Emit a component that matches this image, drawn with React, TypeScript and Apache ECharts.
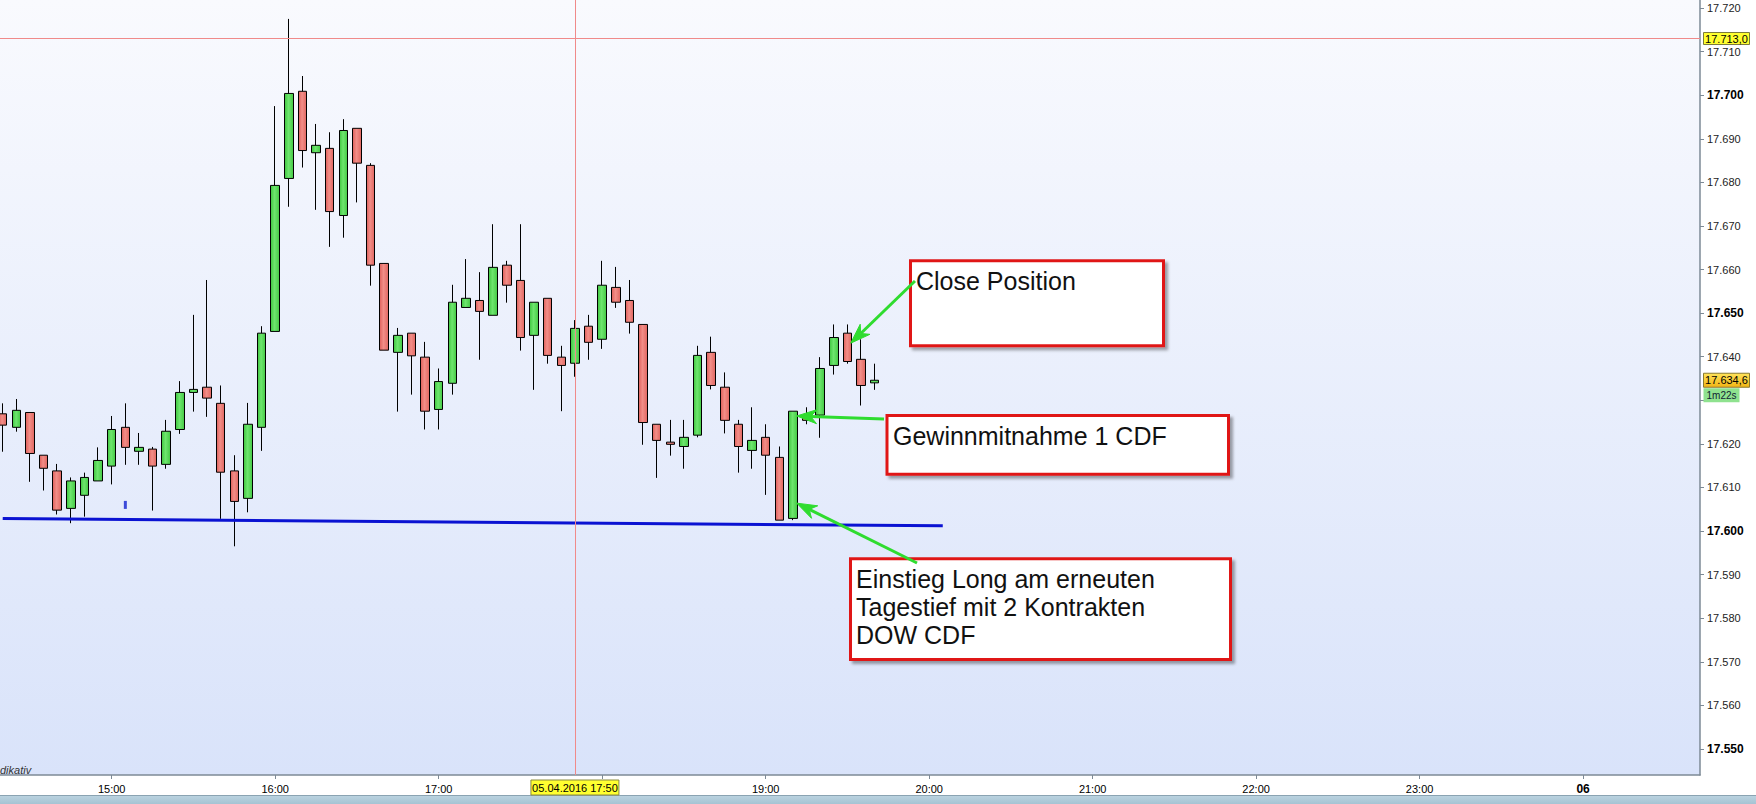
import React, { useEffect, useRef } from "react";
import * as echarts from "echarts";

// ---------- data ----------
const candleTimes = [
  "14:20", "14:25", "14:30", "14:35", "14:40", "14:45", "14:50", "14:55",
  "15:00", "15:05", "15:10", "15:15", "15:20", "15:25", "15:30", "15:35", "15:40", "15:45", "15:50", "15:55",
  "16:00", "16:05", "16:10", "16:15", "16:20", "16:25", "16:30", "16:35", "16:40", "16:45", "16:50", "16:55",
  "17:00", "17:05", "17:10", "17:15", "17:20", "17:25", "17:30", "17:35", "17:40", "17:45", "17:50", "17:55",
  "18:00", "18:05", "18:10", "18:15", "18:20", "18:25", "18:30", "18:35", "18:40", "18:45", "18:50", "18:55",
  "19:00", "19:05", "19:10", "19:15", "19:20", "19:25", "19:30", "19:35", "19:40",
];
const opens = [
  17626.9, 17623.8, 17627.2, 17617.4, 17613.8, 17605.2, 17608.2, 17611.5, 17614.9, 17623.8,
  17618.3, 17618.8, 17615.3, 17623.3, 17631.8, 17633.0, 17629.3, 17613.8, 17607.5, 17623.8,
  17645.8, 17680.9, 17700.9, 17686.8, 17687.8, 17672.4, 17692.4, 17683.9, 17661.4, 17641.0,
  17645.4, 17639.9, 17627.9, 17633.9, 17651.3, 17652.9, 17649.5, 17661.0, 17657.5, 17644.9,
  17653.4, 17639.9, 17638.5, 17647.0, 17644.0, 17655.9, 17652.9, 17647.4, 17624.5, 17620.4,
  17619.4, 17622.0, 17641.0, 17633.0, 17624.5, 17618.5, 17621.5, 17616.9, 17602.9, 17626.3,
  17626.6, 17638.0, 17645.4, 17639.4, 17634.0,
];
const closes = [
  17624.3, 17627.7, 17617.8, 17614.4, 17604.8, 17611.5, 17612.3, 17616.2, 17623.3, 17619.2,
  17619.2, 17614.9, 17622.9, 17631.8, 17632.5, 17630.5, 17613.5, 17606.8, 17624.5, 17645.4,
  17679.3, 17700.4, 17687.3, 17688.5, 17673.3, 17691.9, 17684.4, 17661.0, 17641.5, 17644.9,
  17640.2, 17627.5, 17634.3, 17652.5, 17653.4, 17650.4, 17660.5, 17656.4, 17644.4, 17652.5,
  17640.3, 17638.0, 17646.5, 17643.3, 17656.4, 17652.5, 17647.9, 17624.9, 17620.8, 17619.9,
  17621.5, 17640.3, 17633.4, 17625.4, 17619.4, 17620.8, 17617.4, 17602.5, 17627.5, 17625.4,
  17637.3, 17644.4, 17638.9, 17633.4, 17634.6,
];
const lows = [
  17618.2, 17622.8, 17611.3, 17609.3, 17603.8, 17601.8, 17603.3, 17611.5, 17610.7, 17615.2,
  17615.2, 17604.7, 17614.3, 17622.3, 17627.4, 17626.2, 17602.8, 17596.5, 17604.3, 17618.4,
  17645.8, 17674.4, 17683.4, 17673.7, 17665.2, 17667.3, 17675.4, 17656.3, 17641.5, 17627.4,
  17631.3, 17623.3, 17623.3, 17631.3, 17651.3, 17639.3, 17649.5, 17652.4, 17641.4, 17632.4,
  17638.4, 17627.5, 17635.4, 17639.3, 17641.8, 17651.2, 17645.3, 17619.8, 17612.2, 17617.3,
  17614.3, 17621.5, 17632.5, 17622.4, 17613.4, 17614.3, 17608.3, 17602.5, 17602.5, 17624.5,
  17621.4, 17635.9, 17638.4, 17628.8, 17632.4,
];
const highs = [
  17629.3, 17630.3, 17627.2, 17617.4, 17615.4, 17612.3, 17613.4, 17619.2, 17626.4, 17629.3,
  17622.5, 17619.3, 17625.5, 17634.4, 17649.6, 17657.6, 17633.4, 17617.4, 17629.4, 17647.0,
  17697.5, 17717.5, 17704.4, 17693.4, 17691.5, 17694.5, 17692.4, 17684.4, 17661.4, 17646.6,
  17645.4, 17643.4, 17637.3, 17656.5, 17662.4, 17659.4, 17670.4, 17662.0, 17670.4, 17652.5,
  17653.4, 17642.5, 17648.4, 17649.6, 17662.0, 17660.6, 17657.6, 17647.4, 17624.5, 17625.5,
  17625.5, 17642.5, 17644.6, 17636.4, 17625.5, 17628.4, 17624.5, 17619.4, 17627.5, 17628.4,
  17639.9, 17647.4, 17647.4, 17644.0, 17638.4,
];

const yTickValues = [
  17550, 17560, 17570, 17580, 17590, 17600, 17610, 17620, 17630, 17640,
  17650, 17660, 17670, 17680, 17690, 17700, 17710, 17720,
];
// 17.630 is hidden behind the timer tag in the reference
const yLabelValues = [
  17550, 17560, 17570, 17580, 17590, 17600, 17610, 17620, 17640,
  17650, 17660, 17670, 17680, 17690, 17700, 17710, 17720,
];
const xTickTimes = ["15:00", "16:00", "17:00", "18:00", "19:00", "20:00", "21:00", "22:00", "23:00", "24:00"];
const xLabelTimes = ["15:00", "16:00", "17:00", "19:00", "20:00", "21:00", "22:00", "23:00", "24:00"];
const dayLabel = "06";

const supportTimes = ["14:20", "20:05"];
const supportValues = [17602.9, 17601.2];

const markerTimes = ["15:05"];
const markerValues = [17606.0];

const crosshairTime = "17:50";
const crosshairPrice = 17713.0;
const crosshairDateLabel = "05.04.2016 17:50";
const lastPrice = 17634.6;
const timerText = "1m22s";
const footerText = "dikativ";

const noteTexts = [
  "Close Position",
  "Gewinnmitnahme 1 CDF",
  "Einstieg Long am erneuten\nTagestief mit 2 Kontrakten\nDOW CDF",
];
// arrow tips in data space: [minutes of day, price]
const arrowTipMinutes = [1171.2, 1151.4, 1151.4];
const arrowTipPrices = [17643.1, 17626.4, 17606.4];

// ---------- helpers ----------
const toMin = (t: string) => {
  const [h, m] = t.split(":").map(Number);
  return h * 60 + m;
};
const pad = (n: number) => (n < 10 ? "0" + n : "" + n);
const fmtThousands = (v: number) => {
  const s = String(Math.round(v));
  return s.slice(0, s.length - 3) + "." + s.slice(s.length - 3);
};
const fmtPrice = (v: number) => {
  const [i, d] = v.toFixed(1).split(".");
  return fmtThousands(Number(i)) + "," + d;
};

const FONT = '"Liberation Sans", Arial, sans-serif';
const AXIS_COLOR = "#7d8a96";

export default function App() {
  const ref = useRef<HTMLDivElement>(null);

  useEffect(() => {
    if (!ref.current) return;
    const chart = echarts.init(ref.current, null, { renderer: "svg" });

    const candleData = candleTimes.map((t, i) => [toMin(t), opens[i], closes[i], lows[i], highs[i]]);
    const supportData = supportTimes.map((t, i) => [toMin(t), supportValues[i]]);
    const markerData = markerTimes.map((t, i) => [toMin(t), markerValues[i]]);

    const xMin = 859.0;
    const xMax = 1482.9;
    const yMin = 17544.03;
    const yMax = 17721.84;

    const green = new echarts.graphic.LinearGradient(0, 0, 1, 0, [
      { offset: 0, color: "#3fc63f" },
      { offset: 0.45, color: "#6ee66e" },
      { offset: 1, color: "#44c944" },
    ]);
    const red = new echarts.graphic.LinearGradient(0, 0, 1, 0, [
      { offset: 0, color: "#de605b" },
      { offset: 0.45, color: "#f28e88" },
      { offset: 1, color: "#e06660" },
    ]);

    const option: any = {
      animation: false,
      backgroundColor: "#ffffff",
      grid: {
        left: 0,
        top: 0,
        width: 1700,
        height: 775,
        show: true,
        borderWidth: 0,
        outerBoundsMode: "none",
        backgroundColor: new echarts.graphic.LinearGradient(0, 0, 0, 1, [
          { offset: 0, color: "#f9fafe" },
          { offset: 1, color: "#d9e3fa" },
        ]),
      },
      xAxis: {
        type: "value",
        min: xMin,
        max: xMax,
        axisLine: { show: true, onZero: false, lineStyle: { color: AXIS_COLOR, width: 1.5 } },
        axisTick: {
          show: true,
          customValues: xTickTimes.map(toMin),
          length: 4,
          lineStyle: { color: AXIS_COLOR },
        },
        axisLabel: {
          customValues: xLabelTimes.map(toMin),
          margin: 8,
          formatter: (v: number) => {
            if (v >= 1440) return "{b|" + dayLabel + "}";
            return "{n|" + Math.floor(v / 60) + ":" + pad(v % 60) + "}";
          },
          rich: {
            n: { fontFamily: FONT, fontSize: 11, color: "#000" },
            b: { fontFamily: FONT, fontSize: 12, fontWeight: "bold", color: "#000" },
          },
        },
        splitLine: { show: false },
      },
      yAxis: {
        type: "value",
        position: "right",
        min: yMin,
        max: yMax,
        scale: true,
        axisLine: { show: true, onZero: false, lineStyle: { color: AXIS_COLOR, width: 1.5 } },
        axisTick: {
          show: true,
          customValues: yTickValues,
          length: 4,
          lineStyle: { color: AXIS_COLOR },
        },
        axisLabel: {
          customValues: yLabelValues,
          margin: 7,
          formatter: (v: number) =>
            Math.round(v) % 50 === 0 ? "{b|" + fmtThousands(v) + "}" : "{n|" + fmtThousands(v) + "}",
          rich: {
            n: { fontFamily: FONT, fontSize: 11, color: "#222" },
            b: { fontFamily: FONT, fontSize: 12, fontWeight: "bold", color: "#000" },
          },
        },
        splitLine: { show: false },
      },
      series: [
        {
          type: "candlestick",
          data: candleData,
          barWidth: 9,
          z: 3,
          itemStyle: {
            color: green,
            color0: red,
            borderColor: "#000",
            borderColor0: "#000",
            borderColorDoji: "#000",
            borderWidth: 1,
          },
          markLine: {
            silent: true,
            symbol: ["none", "none"],
            label: { show: false },
            lineStyle: { color: "#f08a8a", width: 1, type: "solid" },
            data: [{ xAxis: toMin(crosshairTime) }, { yAxis: crosshairPrice }],
          },
        },
        {
          type: "line",
          data: supportData,
          symbol: "none",
          z: 4,
          lineStyle: { color: "#0a12d2", width: 3 },
        },
        {
          type: "scatter",
          data: markerData,
          symbol: "rect",
          symbolSize: [3, 8],
          z: 4,
          itemStyle: { color: "#1020d0" },
        },
      ],
    };

    chart.setOption(option);

    const toPx = (t: number, p: number) => chart.convertToPixel({ gridIndex: 0 }, [t, p]) as number[];

    const graphics: any[] = [];
    const ARROW = "#2fdc2f";
    const arrow = (tail: number[], tip: number[]) => {
      const dx = tip[0] - tail[0];
      const dy = tip[1] - tail[1];
      const len = Math.hypot(dx, dy);
      const ux = dx / len;
      const uy = dy / len;
      const nx = -uy;
      const ny = ux;
      const L = 20;
      const W = 7;
      const base = [tip[0] - ux * L, tip[1] - uy * L];
      const notch = [tip[0] - ux * L * 0.7, tip[1] - uy * L * 0.7];
      graphics.push({
        type: "line",
        z: 60,
        shape: { x1: tail[0], y1: tail[1], x2: notch[0], y2: notch[1] },
        style: { stroke: ARROW, lineWidth: 3 },
      });
      graphics.push({
        type: "polygon",
        z: 60,
        shape: {
          points: [tip, [base[0] + nx * W, base[1] + ny * W], notch, [base[0] - nx * W, base[1] - ny * W]],
        },
        style: { fill: ARROW, stroke: ARROW, lineWidth: 1 },
      });
    };

    const box = (x: number, y: number, w: number, h: number) => {
      graphics.push({
        type: "rect",
        z: 50,
        shape: { x, y, width: w, height: h },
        style: {
          fill: "#ffffff",
          stroke: "#e01818",
          lineWidth: 3,
          shadowBlur: 3,
          shadowOffsetX: 3,
          shadowOffsetY: 3,
          shadowColor: "rgba(0,0,0,0.35)",
        },
      });
    };
    const note = (x: number, y: number, text: string) => {
      graphics.push({
        type: "text",
        z: 55,
        x,
        y,
        style: {
          text,
          fontFamily: FONT,
          fontSize: 25,
          lineHeight: 28,
          fill: "#111",
          align: "left",
          verticalAlign: "middle",
        },
      });
    };

    // annotation boxes
    box(910.5, 260.8, 253, 85);
    note(916, 281, noteTexts[0]);
    box(887, 415.5, 341.5, 58.7);
    note(893, 436, noteTexts[1]);
    box(850.5, 558.8, 380, 100.7);
    note(856, 606.5, noteTexts[2]);

    // arrows
    const tips = arrowTipMinutes.map((m, i) => toPx(m, arrowTipPrices[i]));
    arrow([915, 281], tips[0]);
    arrow([884, 419], tips[1]);
    arrow([917, 563], tips[2]);

    // crosshair price tag on the y axis
    const cy = toPx(xMin, crosshairPrice)[1];
    graphics.push({
      type: "rect",
      z: 70,
      shape: { x: 1703.5, y: cy - 6, width: 46, height: 12 },
      style: { fill: "#ffff30", stroke: "#7a7a3a", lineWidth: 1 },
    });
    graphics.push({
      type: "text",
      z: 71,
      x: 1726.5,
      y: cy,
      style: { text: fmtPrice(crosshairPrice), fontFamily: FONT, fontSize: 11, fill: "#000", align: "center", verticalAlign: "middle" },
    });

    // last price tag + timer
    const ly = toPx(xMin, lastPrice)[1];
    graphics.push({
      type: "rect",
      z: 70,
      shape: { x: 1703.5, y: ly - 7, width: 46, height: 14 },
      style: {
        fill: new echarts.graphic.LinearGradient(0, 0, 0, 1, [
          { offset: 0, color: "#ffe45a" },
          { offset: 1, color: "#f2b414" },
        ]),
        stroke: "#8a7a30",
        lineWidth: 1,
      },
    });
    graphics.push({
      type: "text",
      z: 71,
      x: 1726.5,
      y: ly,
      style: { text: fmtPrice(lastPrice), fontFamily: FONT, fontSize: 11, fill: "#000", align: "center", verticalAlign: "middle" },
    });
    graphics.push({
      type: "rect",
      z: 70,
      shape: { x: 1703.5, y: ly + 8, width: 36, height: 14 },
      style: { fill: "#8fe28f" },
    });
    graphics.push({
      type: "text",
      z: 71,
      x: 1721.5,
      y: ly + 15,
      style: { text: timerText, fontFamily: FONT, fontSize: 10, fill: "#123", align: "center", verticalAlign: "middle" },
    });

    // crosshair date tag on the x axis
    const cx = toPx(toMin(crosshairTime), yMin)[0];
    graphics.push({
      type: "rect",
      z: 70,
      shape: { x: cx - 44, y: 780, width: 88, height: 15 },
      style: { fill: "#ffff30", stroke: "#8a8a40", lineWidth: 1 },
    });
    graphics.push({
      type: "text",
      z: 71,
      x: cx,
      y: 787.5,
      style: { text: crosshairDateLabel, fontFamily: FONT, fontSize: 11, fill: "#000", align: "center", verticalAlign: "middle" },
    });

    // footer text and bottom bar
    graphics.push({
      type: "text",
      z: 40,
      x: 0,
      y: 769.5,
      style: { text: footerText, fontFamily: FONT, fontSize: 11, fontStyle: "italic", fill: "#333", align: "left", verticalAlign: "middle" },
    });
    graphics.push({
      type: "rect",
      z: 40,
      shape: { x: 0, y: 795, width: 1756, height: 9 },
      style: {
        fill: new echarts.graphic.LinearGradient(0, 0, 0, 1, [
          { offset: 0, color: "#bcd4e1" },
          { offset: 1, color: "#a6c3d3" },
        ]),
      },
    });
    graphics.push({
      type: "line",
      z: 41,
      shape: { x1: 0, y1: 795.5, x2: 1756, y2: 795.5 },
      style: { stroke: "#8aa3b2", lineWidth: 1 },
    });

    chart.setOption({ graphic: graphics });

    return () => chart.dispose();
  }, []);

  return (
    <div
      ref={ref}
      style={{ position: "fixed", left: 0, top: 0, width: 1756, height: 804, background: "#ffffff" }}
    />
  );
}
